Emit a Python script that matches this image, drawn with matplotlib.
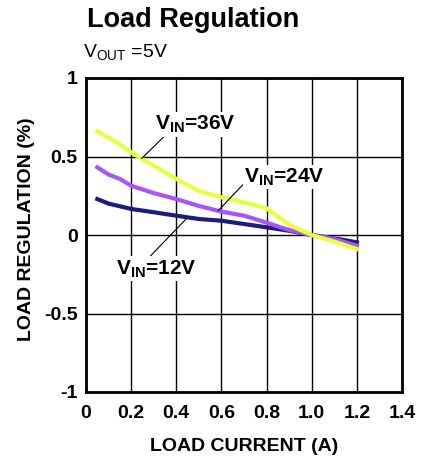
import matplotlib
matplotlib.use("Agg")
import matplotlib.pyplot as plt

plt.rcParams['font.family'] = ['Liberation Sans', 'DejaVu Sans']

current = [0.05, 0.1, 0.15, 0.2, 0.3, 0.4, 0.5, 0.6, 0.7, 0.8, 0.86, 0.9, 1.0, 1.1, 1.2]
y12 = [0.229, 0.200, 0.183, 0.166, 0.145, 0.123, 0.102, 0.091, 0.070, 0.049, 0.036, 0.027, 0.0, -0.021, -0.047]
y24 = [0.431, 0.385, 0.357, 0.314, 0.267, 0.229, 0.185, 0.149, 0.123, 0.079, 0.050, 0.032, 0.0, -0.025, -0.068]
y36 = [0.660, 0.620, 0.578, 0.527, 0.441, 0.357, 0.280, 0.240, 0.208, 0.170, 0.106, 0.064, 0.0, -0.042, -0.089]

xticks = [0, 0.2, 0.4, 0.6, 0.8, 1.0, 1.2, 1.4]
xticklabels = ['0', '0.2', '0.4', '0.6', '0.8', '1.0', '1.2', '1.4']
yticks = [-1, -0.5, 0, 0.5, 1]
yticklabels = ['-1', '-0.5', '0', '0.5', '1']

fig = plt.figure(figsize=(4.23, 4.58), dpi=100)
ax = fig.add_axes([86/423, 1-392/458, 316/423, 314/458])

ax.plot(current, y12, color='#1c1c7c', lw=3, zorder=3)
ax.plot(current, y24, color='#a855f7', lw=3, zorder=3)
ax.plot(current, y36, color='#e8ff3c', lw=3, zorder=4)

ax.set_xlim(0, 1.4)
ax.set_ylim(-1, 1)
ax.set_xticks(xticks)
ax.set_xticklabels(xticklabels, fontsize=14, fontweight='bold')
ax.set_yticks(yticks)
ax.set_yticklabels(yticklabels, fontsize=14, fontweight='bold')
ax.tick_params(length=0)
ax.tick_params(axis='x', pad=9)
ax.tick_params(axis='y', pad=6)
ax.grid(True, color='black', lw=1)
ax.set_axisbelow(True)
for s in ax.spines.values():
    s.set_linewidth(2)

ax.set_xlabel('LOAD CURRENT (A)', fontsize=14, fontweight='bold', labelpad=12)
ax.set_ylabel('LOAD REGULATION (%)', fontsize=14, fontweight='bold')
ax.yaxis.set_label_coords(-0.16, 0.52)

fs = 15
ax.text(0.305, 0.705, r'V$_{\mathregular{IN}}$=36V', fontsize=fs, fontweight='bold', va='center', ha='left', zorder=6,
        bbox=dict(facecolor='white', edgecolor='none', pad=1))
ax.plot([0.372, 0.247], [0.664, 0.488], color='black', lw=0.8, zorder=5)
ax.text(0.70, 0.37, r'V$_{\mathregular{IN}}$=24V', fontsize=fs, fontweight='bold', va='center', ha='left', zorder=6,
        bbox=dict(facecolor='white', edgecolor='none', pad=1))
ax.plot([0.719, 0.586], [0.357, 0.155], color='black', lw=0.8, zorder=5)
ax.text(0.135, -0.215, r'V$_{\mathregular{IN}}$=12V', fontsize=fs, fontweight='bold', va='center', ha='left', zorder=6,
        bbox=dict(facecolor='white', edgecolor='none', pad=1))
ax.plot([0.276, 0.446], [-0.148, 0.106], color='black', lw=0.8, zorder=5)

fig.text(87/423, 1-20/458, 'Load Regulation', fontsize=19.5, fontweight='bold', va='center', ha='left')
fig.text(83/423, 1-53/458, r'V$_{\mathregular{OUT}}$ =5V', fontsize=14, va='center', ha='left')

fig.savefig('out.png', dpi=100)
